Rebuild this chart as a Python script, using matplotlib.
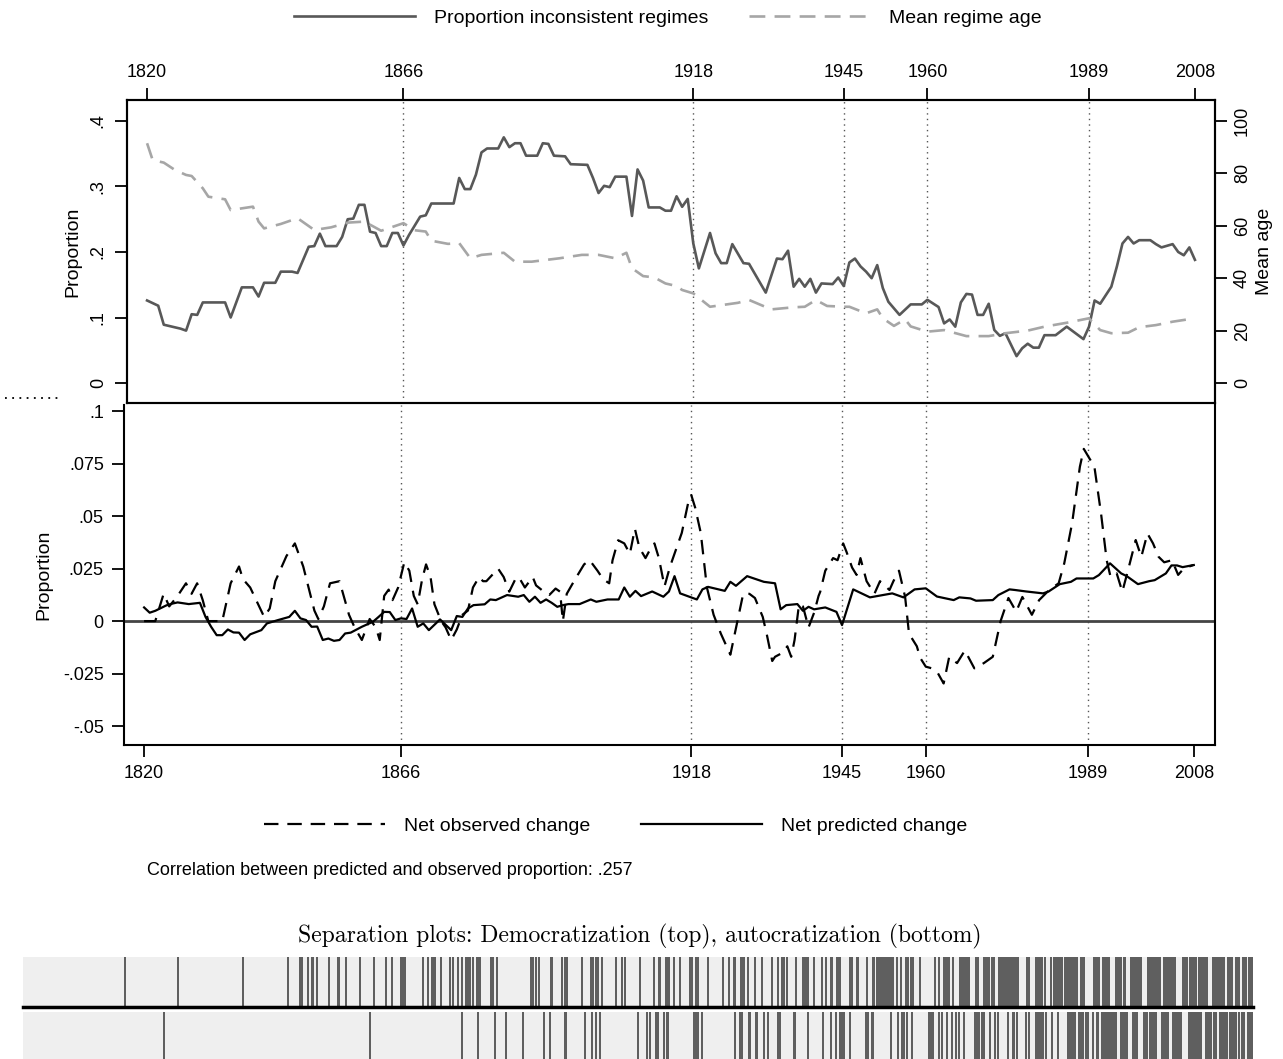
import matplotlib
matplotlib.use('Agg')
import matplotlib.pyplot as plt
from matplotlib.lines import Line2D

plt.rcParams['font.family'] = ['Liberation Sans', 'DejaVu Sans']

# ---- top panel: proportion of inconsistent regimes / mean regime age
prop_years = [1820, 1822, 1823, 1825, 1826, 1827, 1828, 1829, 1830, 1834, 1835, 1837, 1839, 1840,
              1841, 1843, 1844, 1846, 1847, 1849, 1850, 1851, 1852, 1854, 1855, 1856, 1857, 1858,
              1859, 1860, 1861, 1862, 1863, 1864, 1865, 1866, 1867, 1869, 1870, 1871, 1875, 1876,
              1877, 1878, 1879, 1880, 1881, 1883, 1884, 1885, 1886, 1887, 1888, 1890, 1891, 1892,
              1893, 1895, 1896, 1899, 1900, 1901, 1902, 1903, 1904, 1906, 1907, 1908, 1909, 1910,
              1912, 1913, 1914, 1915, 1916, 1917, 1918, 1919, 1921, 1922, 1923, 1924, 1925, 1927,
              1928, 1931, 1933, 1934, 1935, 1936, 1937, 1938, 1939, 1940, 1941, 1943, 1944, 1945,
              1946, 1947, 1948, 1949, 1950, 1951, 1952, 1953, 1955, 1957, 1959, 1960, 1962, 1963,
              1964, 1965, 1966, 1967, 1968, 1969, 1970, 1971, 1972, 1973, 1974, 1976, 1977, 1978,
              1979, 1980, 1981, 1983, 1985, 1988, 1989, 1990, 1991, 1993, 1994, 1995, 1996, 1997,
              1998, 2000, 2001, 2002, 2004, 2005, 2006, 2007, 2008]
prop_inconsistent = [.126, .118, .089, .085, .083, .080, .105, .104, .123, .123, .100, .146, .146, .132,
                     .153, .153, .170, .170, .168, .208, .209, .228, .209, .209, .223, .250, .251, .272,
                     .272, .231, .229, .209, .209, .229, .229, .210, .226, .254, .256, .274, .274, .313,
                     .296, .296, .318, .352, .358, .358, .375, .360, .366, .366, .347, .347, .366, .365,
                     .347, .346, .334, .333, .313, .290, .301, .299, .315, .315, .255, .326, .309, .268,
                     .268, .263, .263, .285, .269, .281, .213, .175, .229, .198, .183, .183, .212, .183,
                     .182, .138, .190, .189, .202, .147, .159, .147, .159, .138, .152, .151, .161, .148,
                     .184, .190, .178, .170, .160, .180, .145, .124, .104, .120, .120, .127, .116, .091,
                     .097, .086, .123, .136, .135, .104, .104, .121, .081, .072, .076, .041, .053, .060,
                     .054, .054, .073, .073, .086, .067, .086, .126, .121, .147, .178, .213, .223, .213,
                     .218, .218, .212, .207, .212, .200, .195, .207, .188]

age_years = [1820, 1821, 1823, 1825, 1827, 1828, 1830, 1831, 1834, 1835, 1839, 1840, 1841, 1844,
             1847, 1850, 1853, 1856, 1859, 1862, 1866, 1868, 1870, 1871, 1874, 1876, 1878, 1880,
             1884, 1886, 1889, 1894, 1898, 1901, 1904, 1906, 1907, 1909, 1911, 1913, 1915, 1916,
             1918, 1921, 1923, 1926, 1928, 1932, 1936, 1938, 1940, 1942, 1945, 1946, 1949, 1951,
             1952, 1954, 1956, 1957, 1960, 1963, 1967, 1971, 1974, 1978, 1981, 1985, 1989, 1991,
             1993, 1996, 1998, 2001, 2004, 2008]
mean_age = [91.5, 85.1, 84.1, 81.3, 79.4, 79.0, 74.3, 71.1, 70.1, 66.0, 67.3, 61.6, 59.0, 60.7,
            62.9, 58.4, 59.4, 61.2, 61.6, 58.1, 61.0, 58.3, 57.8, 54.3, 53.1, 53.4, 47.6, 48.9,
            49.7, 46.3, 46.3, 47.6, 48.9, 48.9, 47.6, 49.7, 43.8, 40.8, 40.3, 38.0, 37.0, 35.5,
            34.2, 29.1, 29.7, 30.6, 31.7, 28.1, 28.9, 29.1, 31.7, 29.4, 29.1, 29.1, 26.6, 28.1,
            24.7, 21.8, 24.3, 21.6, 19.6, 20.2, 17.9, 17.9, 19.0, 20.0, 21.5, 23.0, 24.7, 20.2,
            19.0, 19.2, 21.3, 22.1, 23.4, 24.7]

# ---- bottom panel: net changes
pred_years = [1820, 1821, 1822, 1824, 1825, 1826, 1828, 1830, 1831, 1832, 1833, 1834, 1835, 1836,
              1837, 1838, 1839, 1841, 1842, 1844, 1846, 1847, 1848, 1849, 1850, 1851, 1852, 1853,
              1854, 1855, 1856, 1857, 1859, 1861, 1862, 1863, 1864, 1865, 1866, 1867, 1868, 1869,
              1870, 1871, 1873, 1875, 1876, 1877, 1878, 1879, 1881, 1882, 1883, 1885, 1887, 1888,
              1889, 1890, 1891, 1892, 1893, 1894, 1895, 1896, 1898, 1900, 1901, 1903, 1905, 1906,
              1907, 1908, 1909, 1911, 1913, 1914, 1915, 1916, 1918, 1919, 1920, 1921, 1924, 1925,
              1926, 1928, 1931, 1933, 1934, 1935, 1937, 1938, 1939, 1940, 1942, 1944, 1945, 1947,
              1950, 1954, 1956, 1958, 1960, 1962, 1965, 1966, 1968, 1969, 1972, 1973, 1975, 1976,
              1978, 1981, 1982, 1984, 1986, 1987, 1990, 1991, 1993, 1995, 1996, 1998, 2000, 2001,
              2003, 2004, 2005, 2006, 2008]
pred_change = [.0065, .0040, .0049, .0075, .0083, .0089, .0081, .0087, .0020, -.0027, -.0067, -.0067,
               -.0040, -.0054, -.0055, -.0090, -.0063, -.0043, -.0011, .0005, .0020, .0049, .0013,
               .0005, -.0027, -.0026, -.0090, -.0083, -.0094, -.0090, -.0059, -.0055, -.0027,
               -.0003, .0020, .0044, .0043, .0005, .0013, .0010, .0060, -.0027, -.0011, -.0043,
               .0008, -.0043, .0024, .0020, .0060, .0076, .0080, .0103, .0100, .0124, .0116, .0124,
               .0092, .0116, .0087, .0103, .0087, .0068, .0076, .0081, .0081, .0103, .0092, .0103,
               .0103, .0160, .0116, .0144, .0119, .0141, .0116, .0141, .0214, .0132, .0113, .0103,
               .0151, .0163, .0144, .0187, .0168, .0214, .0187, .0180, .0056, .0076, .0081, .0049,
               .0068, .0056, .0065, .0044, -.0019, .0151, .0113, .0132, .0113, .0151, .0156, .0117,
               .0100, .0113, .0108, .0097, .0100, .0124, .0151, .0148, .0141, .0132, .0141, .0176,
               .0187, .0203, .0203, .0219, .0275, .0227, .0214, .0176, .0190, .0195, .0227, .0265,
               .0265, .0257, .0267]

obs_years = [1820, 1822, 1823.5, 1824.5, 1826, 1827.5, 1828.5, 1829.5, 1830.5, 1831.5, 1834, 1835.5,
             1837, 1837.7, 1839, 1841.5, 1842.5, 1843.5, 1845.5, 1847, 1848.5, 1850.5, 1851.2,
             1852.2, 1853.3, 1855, 1856.7, 1857.7, 1859, 1860.4, 1861.5, 1862.2, 1863, 1863.8,
             1864.5, 1865.5, 1866.6, 1867.5, 1868.3, 1869, 1869.8, 1870.5, 1871.3, 1872, 1873.2,
             1874, 1875, 1876, 1877, 1878, 1878.9, 1880, 1880.7, 1881.3, 1883.4, 1884.4, 1885.4,
             1886.5, 1887.1, 1888.2, 1889.6, 1890.2, 1891.6, 1892.6, 1893.7, 1894.5, 1895, 1895.7,
             1897.1, 1898.8, 1899.8, 1901.2, 1902.2, 1903.3, 1903.9, 1904.9, 1906, 1907, 1907.9,
             1908.7, 1909.8, 1910.8, 1911.4, 1912.2, 1913.2, 1914.2, 1916.3, 1917.5, 1918, 1918.7,
             1919.7, 1920.8, 1922, 1923.3, 1925, 1926.3, 1927.3, 1928.4, 1929.4, 1930.8, 1931.5,
             1932.5, 1933, 1934.4, 1935.2, 1935.9, 1936.5, 1937.3, 1938, 1939, 1940, 1940.8, 1941.1,
             1942, 1943.4, 1944.2, 1945.2, 1945.8, 1946.8, 1947.6, 1948.3, 1949.4, 1950.8, 1951.8,
             1953.5, 1954.2, 1955.2, 1956.3, 1957, 1958.4, 1959, 1960, 1961.1, 1962, 1963.2, 1964.2,
             1965.6, 1967, 1968.7, 1970.4, 1972, 1973.4, 1974.8, 1976.2, 1977.3, 1979, 1980.3,
             1982.1, 1983.8, 1984.8, 1986.2, 1987.6, 1988.3, 1989.3, 1990.2, 1991.4, 1992.4, 1993.1,
             1994.2, 1995.2, 1996.2, 1997.6, 1998.6, 1999.7, 2000.7, 2001.7, 2002.7, 2004.1, 2005.2,
             2006.2, 2007.9]
obs_change = [0, 0, .013, .007, .012, .018, .013, .018, .010, 0, 0, .018,
              .026, .020, .016, .002, .006, .019, .031, .037, .026, .005, .001,
              .007, .018, .019, .003, -.003, -.009, .001, -.003, -.009, .012, .015,
              .010, .016, .028, .024, .012, .008, .020, .027, .021, .008, 0,
              -.003, -.009, -.004, .003, .005, .016, .021, .019, .019, .025, .021, .014,
              .020, .021, .016, .021, .017, .014, .0125, .0155, .014, 0, .013,
              .0195, .027, .029, .024, .020, .018, .029, .0385, .037, .032, .044,
              .035, .030, .035, .037, .030, .0165, .026, .042, .057, .060, .054,
              .042, .016, .003, -.006, -.016, .0005, .013, .013, .011, .002, -.006,
              -.019, -.017, -.015, -.012, -.017, -.009, .008, .007, -.003, .004, .012, .014,
              .024, .030, .029, .037, .033, .0255, .022, .030, .019, .013, .019,
              .0148, .019, .024, .0115, -.006, -.012, -.0175, -.0217, -.0225, -.024, -.0297, -.017,
              -.020, -.014, -.0225, -.020, -.017, 0, .011, .0045, .0115, .003, .010,
              .0148, .018, .0275, .0465, .0735, .082, .0775, .0735, .051, .029, .021,
              .0227, .014, .024, .0386, .0306, .0417, .037, .0306, .028, .029, .022,
              .025, .0267]

year_marks = [1820, 1866, 1918, 1945, 1960, 1989, 2008]
break_years = [1866, 1918, 1945, 1960, 1989]

# ---- separation plots: ranks of observed events after sorting by predicted probability
demo_events = [102, 155, 220, 265, 277, 279, 285, 289, 290, 294, 306, 315, 316, 323, 337, 351, 363,
               369, 378, 380, 382, 400, 405, 409, 410, 412, 418, 427, 430, 435, 439, 443, 445, 447,
               450, 454, 455, 457, 468, 470, 474, 508, 510, 513, 516, 528, 529, 539, 542, 544, 559,
               568, 570, 573, 575, 579, 593, 599, 602, 617, 631, 636, 637, 643, 645, 646, 651, 657,
               667, 669, 673, 675, 685, 700, 706, 711, 712, 718, 720, 721, 725, 732, 739, 749, 755,
               759, 761, 764, 773, 780, 781, 783, 785, 791, 799, 803, 808, 809, 814, 816, 817, 827,
               829, 834, 835, 844, 850, 851, 854, 855, 857, 859, 861, 863, 865, 867, 869, 870, 874,
               878, 883, 885, 888, 890, 897, 912, 916, 921, 923, 925, 930, 937, 939, 942, 944, 946,
               953, 955, 961, 964, 966, 969, 971, 976, 978, 979, 981, 984, 986, 989, 991, 993, 995,
               1004, 1006, 1013, 1015, 1017, 1019, 1022, 1028, 1031, 1034, 1035]
demo_spans = [(920, 927), (940, 947), (960, 965), (977, 995), (1032, 1040), (1041, 1055),
              (1057, 1062), (1070, 1077), (1079, 1087), (1092, 1099), (1100, 1103), (1107, 1119),
              (1124, 1138), (1140, 1153), (1159, 1165), (1166, 1174), (1175, 1185), (1189, 1202),
              (1204, 1210), (1212, 1217), (1219, 1224), (1225, 1230)]
auto_events = [141, 347, 439, 455, 472, 483, 500, 521, 527, 542, 543, 562, 569, 573, 577, 615, 624,
               627, 633, 635, 641, 644, 645, 671, 673, 675, 679, 712, 717, 719, 726, 727, 733, 734,
               741, 745, 755, 757, 771, 772, 785, 800, 808, 813, 817, 819, 821, 827, 843, 845, 849,
               850, 868, 875, 879, 881, 884, 889, 906, 908, 910, 916, 919, 924, 929, 933, 936, 941,
               952, 954, 956, 959, 961, 967, 972, 975, 985, 990, 991, 994, 1003, 1006, 1014, 1015,
               1019, 1020, 1023, 1029]
auto_spans = [(1012, 1018), (1034, 1036), (1044, 1053), (1055, 1061), (1062, 1066), (1069, 1071),
              (1073, 1076), (1078, 1094), (1097, 1105), (1109, 1115), (1120, 1125), (1126, 1134),
              (1138, 1146), (1149, 1159), (1165, 1179), (1182, 1189), (1190, 1194), (1196, 1205),
              (1206, 1214), (1215, 1217), (1218, 1222), (1224, 1230)]
n_obs = 1230

W, H = 1283, 1059
fig = plt.figure(figsize=(W / 100, H / 100), dpi=100)


def box(x0, y0, x1, y1):
    # pixel box (top-left origin) -> figure fraction rect
    return [x0 / W, 1 - y1 / H, (x1 - x0) / W, (y1 - y0) / H]


FS = 13
LFS = 14
TICK = 8.5
DOT = (0, (1, 3))

# ---------------- top panel
ax1 = fig.add_axes(box(127, 100, 1215, 403))
l_prop, = ax1.plot(prop_years, prop_inconsistent, color='#585858', lw=1.9,
                   label='Proportion inconsistent regimes')
for yr in break_years:
    ax1.axvline(yr, color='#555555', lw=1, ls=DOT, zorder=0)
ax1.set_xlim(1816.4, 2011.6)
ax1.set_ylim(-0.0305, 0.432)
ax1.xaxis.tick_top()
ax1.set_xticks(year_marks)
ax1.tick_params(axis='x', top=True, bottom=False, length=TICK, width=1.3, labelsize=FS, pad=5)
ax1.set_yticks([0, .1, .2, .3, .4])
ax1.set_yticklabels(['0', '.1', '.2', '.3', '.4'])
ax1.tick_params(axis='y', length=TICK, width=1.3, labelsize=FS, labelrotation=90, pad=6)
for t in ax1.get_yticklabels():
    t.set_va('center')
ax1.set_ylabel('Proportion', fontsize=LFS, labelpad=6)
for s in ax1.spines.values():
    s.set_linewidth(1.5)

ax2 = ax1.twinx()
l_age, = ax2.plot(age_years, mean_age, color='#a6a6a6', lw=1.9, dashes=(6, 3.5),
                  label='Mean regime age')
ax2.set_ylim(-0.0305 * 250, 0.432 * 250)
ax2.set_yticks([0, 20, 40, 60, 80, 100])
ax2.tick_params(axis='y', length=TICK, width=1.3, labelsize=FS, labelrotation=90, pad=5)
for t in ax2.get_yticklabels():
    t.set_va('center')
ax2.set_ylabel('Mean age', fontsize=LFS, labelpad=4)
for s in ax2.spines.values():
    s.set_linewidth(1.5)

fig.legend(handles=[l_prop, l_age], loc='center', bbox_to_anchor=(668 / W, 1 - 18 / H), ncol=2,
           frameon=False, fontsize=LFS, handlelength=6.2, handletextpad=1.0, columnspacing=2.1)

# ---------------- bottom panel
ax3 = fig.add_axes(box(124, 405, 1215, 745))
ax3.patch.set_alpha(0)
l_obs, = ax3.plot(obs_years, obs_change, color='black', lw=1.6, dashes=(6.5, 4),
                  label='Net observed change')
l_pred, = ax3.plot(pred_years, pred_change, color='black', lw=1.6, label='Net predicted change')
ax3.axhline(0, color='#444444', lw=2, zorder=1)
for yr in break_years:
    ax3.axvline(yr, color='#555555', lw=1, ls=DOT, zorder=0)
ax3.set_xlim(1816.4, 2011.8)
ax3.set_ylim(-0.059, 0.1029)
ax3.set_xticks(year_marks)
ax3.set_yticks([-.05, -.025, 0, .025, .05, .075, .1])
ax3.set_yticklabels(['-.05', '-.025', '0', '.025', '.05', '.075', '.1'])
ax3.tick_params(length=TICK, width=1.3, labelsize=FS, pad=6)
ax3.spines['top'].set_visible(False)
for s in ('left', 'right', 'bottom'):
    ax3.spines[s].set_linewidth(1.5)
ax3.set_ylabel('Proportion', fontsize=LFS, labelpad=8)

fig.legend(handles=[l_obs, l_pred], loc='center', bbox_to_anchor=(616 / W, 1 - 826 / H), ncol=2,
           frameon=False, fontsize=LFS, handlelength=6.2, handletextpad=1.0, columnspacing=2.6)

fig.text(147 / W, 1 - 875 / H, 'Correlation between predicted and observed proportion: .257',
         fontsize=13, va='baseline')

fig.add_artist(Line2D([5 / W, 60 / W], [1 - 398 / H, 1 - 398 / H], transform=fig.transFigure,
                      color='black', lw=1.3, ls=DOT))

# ---------------- separation plots
fig.text(640 / W, 1 - 942 / H, 'Separation plots: Democratization (top), autocratization (bottom)',
         family='cmr10', fontsize=17, ha='center', va='baseline')

strips = [(box(23, 957, 1253, 1007), demo_events, demo_spans, True),
          (box(23, 1012, 1253, 1059), auto_events, auto_spans, False)]
for rect, events, spans, underline in strips:
    ax = fig.add_axes(rect)
    ax.set_facecolor('#efefef')
    ax.bar(events, 1, width=1.8, color='#5f5f5f', linewidth=0)
    ax.bar([a for a, b in spans], 1, width=[b - a for a, b in spans], align='edge',
           color='#5f5f5f', linewidth=0)
    ax.set_xlim(0, n_obs)
    ax.set_ylim(0, 1)
    ax.set_xticks([])
    ax.set_yticks([])
    for name, s in ax.spines.items():
        s.set_visible(underline and name == 'bottom')
    ax.spines['bottom'].set_linewidth(2.5)

fig.savefig('out.png', dpi=100)
